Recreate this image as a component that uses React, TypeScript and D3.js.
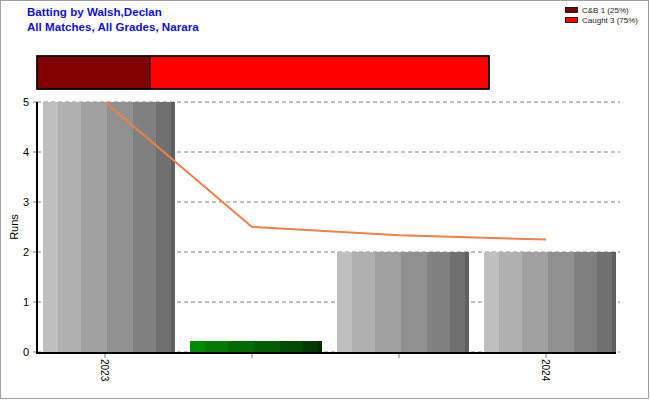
import React from "react";
import * as d3 from "d3";

const categories = ["2023", "", "", "2024"];
const runs = [5, 0.22, 2, 2];
const barKinds = ["gray", "green", "gray", "gray"];
const average = [5, 2.5, 2.333, 2.25];
const yTicks = [0, 1, 2, 3, 4, 5];
const dismissalLabels = ["C&B 1 (25%)", "Caught 3 (75%)"];
const dismissalCounts = [1, 3];
const dismissalColors = ["#800000", "#FF0000"];
const titleLines = ["Batting by Walsh,Declan", "All Matches, All Grades, Narara"];

const grayStops = [
  { o: 0, c: "#bfbfbf" }, { o: 0.114, c: "#b0b0b0" }, { o: 0.288, c: "#a0a0a0" },
  { o: 0.485, c: "#909090" }, { o: 0.68, c: "#808080" }, { o: 0.856, c: "#707070" },
  { o: 0.97, c: "#606060" }, { o: 1, c: "#606060" },
];
const greenStops = [
  { o: 0, c: "#008a00" }, { o: 0.114, c: "#007a00" }, { o: 0.288, c: "#006c00" },
  { o: 0.485, c: "#005e00" }, { o: 0.68, c: "#004c00" }, { o: 0.856, c: "#003a00" },
  { o: 0.97, c: "#002c00" }, { o: 1, c: "#002c00" },
];

function HardGradient({ id, stops }: { id: string; stops: { o: number; c: string }[] }) {
  const els: React.ReactNode[] = [];
  for (let i = 0; i < stops.length - 1; i++) {
    els.push(<stop key={i + "a"} offset={stops[i].o} stopColor={stops[i].c} />);
    els.push(<stop key={i + "b"} offset={stops[i + 1].o} stopColor={stops[i].c} />);
  }
  return <linearGradient id={id} x1="0" x2="1" y1="0" y2="0">{els}</linearGradient>;
}

export default function App() {
  const W = 650, H = 400;
  const left = 37, right = 620, top = 102, bottom = 352;
  const x = d3.scaleBand<number>().domain(d3.range(categories.length)).range([31.5, 619.5]).paddingInner(0).paddingOuter(0);
  const y = d3.scaleLinear().domain([0, 5]).range([bottom, top]);
  const bw = x.bandwidth();
  const barW = 132;
  const cx = (i: number) => (x(i) as number) + bw / 2;
  const line = d3.line<number>().x((_, i) => cx(i)).y((d) => y(d));

  const total = d3.sum(dismissalCounts);
  const sx = d3.scaleLinear().domain([0, total]).range([37, 489]);
  const cum = dismissalCounts.map((_, i) => d3.sum(dismissalCounts.slice(0, i)));

  const font = "Arial, 'Liberation Sans', sans-serif";
  return (
    <svg width={W} height={H} style={{ position: "absolute", left: 0, top: 0, background: "#fff" }} fontFamily={font}>
      <defs>
        <HardGradient id="gGray" stops={grayStops} />
        <HardGradient id="gGreen" stops={greenStops} />
      </defs>
      <rect x={0.5} y={0.5} width={W - 2} height={H - 2} fill="#fff" stroke="#a0a0a0" />
      {titleLines.map((t, i) => (
        <text key={t} x={27} y={16 + i * 15} fill="#1010d0" fontWeight="bold" fontSize={11.6}>{t}</text>
      ))}
      {dismissalLabels.map((t, i) => (
        <g key={t}>
          <rect x={565.5} y={7.5 + i * 10} width={12} height={5} fill={dismissalColors[i]} stroke="#000" strokeWidth={0.8} />
          <text x={582} y={13 + i * 10} fontSize={8} fill="#222">{t}</text>
        </g>
      ))}
      {dismissalCounts.map((c, i) => (
        <rect key={i} x={sx(cum[i])} y={56} width={sx(cum[i] + c) - sx(cum[i])} height={33}
          fill={dismissalColors[i]} stroke="#000" strokeWidth={1} />
      ))}
      <rect x={37} y={56} width={452} height={33} fill="none" stroke="#000" strokeWidth={1.5} />
      {yTicks.map((t) => (
        <g key={t}>
          <line x1={left} x2={right} y1={y(t)} y2={y(t)} stroke="#808080" strokeDasharray="4,3" />
          <line x1={left - 4} x2={left} y1={y(t)} y2={y(t)} stroke="#808080" />
          <text x={29} y={y(t) + 4} fontSize={11} textAnchor="end" fill="#000">{t}</text>
        </g>
      ))}
      {runs.map((v, i) => (
        <rect key={i} x={cx(i) + 4 - barW / 2} y={y(v)} width={barW} height={bottom - y(v)}
          fill={barKinds[i] === "gray" ? "url(#gGray)" : "url(#gGreen)"} />
      ))}
      <path d={line(average) || ""} fill="none" stroke="#ef8048" strokeWidth={2} />
      <line x1={left} x2={left} y1={top} y2={bottom + 1} stroke="#000" strokeWidth={2} />
      <line x1={left - 1} x2={616} y1={bottom + 1} y2={bottom + 1} stroke="#000" strokeWidth={2} />
      {categories.map((c, i) => (
        <g key={i}>
          <line x1={cx(i)} x2={cx(i)} y1={bottom + 2} y2={bottom + 6} stroke="#808080" />
          {c && (
            <text transform={`translate(${cx(i) - 4},${bottom + 7}) rotate(90)`} fontSize={10} fill="#000">{c}</text>
          )}
        </g>
      ))}
      <text transform={`translate(18,${(top + bottom) / 2}) rotate(-90)`} fontSize={11} textAnchor="middle" fill="#000">Runs</text>
    </svg>
  );
}
